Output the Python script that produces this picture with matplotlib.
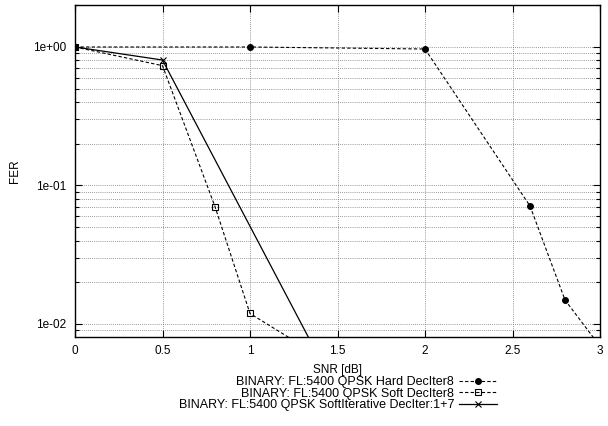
import numpy as np
import matplotlib
matplotlib.use('Agg')
import matplotlib.pyplot as plt
from matplotlib.ticker import FixedLocator, LogLocator, NullFormatter, FuncFormatter

plt.rcParams['font.family'] = ['Liberation Sans', 'DejaVu Sans']

# FER vs SNR curves
snr_hard = [0.0, 1.0, 2.0, 2.6, 2.8, 3.0]
fer_hard = [1.0, 1.0, 0.967, 0.0711, 0.0149, 0.0069]

snr_soft = [0.0, 0.5, 0.8, 1.0, 1.4]
fer_soft = [1.0, 0.733, 0.0703, 0.0119, 0.0058]

snr_iter = [0.0, 0.5, 1.5]
fer_iter = [1.0, 0.805, 0.0032]

labels = ['BINARY: FL:5400 QPSK Hard DecIter8',
          'BINARY: FL:5400 QPSK Soft DecIter8',
          'BINARY: FL:5400 QPSK SoftIterative DecIter:1+7']

fig = plt.figure(figsize=(6.08, 4.26), dpi=100)
ax = fig.add_axes([75/608, 1-337/426, 525/608, 332/426])

ax.plot(snr_hard, fer_hard, color='black', lw=0.8, ls=(0, (3, 2)),
        marker='o', ms=4, mfc='black', label=labels[0])
ax.plot(snr_soft, fer_soft, color='black', lw=0.8, ls=(0, (3, 2)),
        marker='s', ms=4.5, mfc='none', mew=0.8, label=labels[1])
ax.plot(snr_iter, fer_iter, color='black', lw=0.9, ls='-',
        marker='x', ms=4.5, mew=0.8, label=labels[2])

ax.set_yscale('log')
ax.set_xlim(0, 3)
ax.set_ylim(0.00805, 2.01)

ax.xaxis.set_major_locator(FixedLocator([0, 0.5, 1, 1.5, 2, 2.5, 3]))
ax.xaxis.set_major_formatter(FuncFormatter(lambda v, p: f'{v:g}'))
ax.yaxis.set_major_locator(FixedLocator([1e-2, 1e-1, 1e0]))
ax.yaxis.set_major_formatter(FuncFormatter(lambda v, p: f'{v:.0e}'))
ax.yaxis.set_minor_locator(LogLocator(base=10, subs=np.arange(2, 10)))
ax.yaxis.set_minor_formatter(NullFormatter())

ax.tick_params(which='both', direction='in', top=True, right=True,
               labelsize=8.5, width=0.8)
ax.tick_params(which='major', length=5, pad=6)
ax.tick_params(which='minor', length=3)

ax.grid(True, which='major', color='#777777', ls=(0, (1, 1.5)), lw=0.6)
ax.grid(True, which='minor', axis='y', color='#777777', ls=(0, (1, 1.5)), lw=0.6)
for s in ax.spines.values():
    s.set_linewidth(1.0)

ax.set_xlabel('SNR [dB]', fontsize=8.5, labelpad=5)
ax.set_ylabel('FER', fontsize=8.5, labelpad=9)

fig.legend(loc='upper center', bbox_to_anchor=(338/608, 1-370/426),
           frameon=False, markerfirst=False, fontsize=9,
           handlelength=3.1, handletextpad=0.35, labelspacing=-0.05,
           borderpad=0)

fig.savefig('out.png', dpi=100)
